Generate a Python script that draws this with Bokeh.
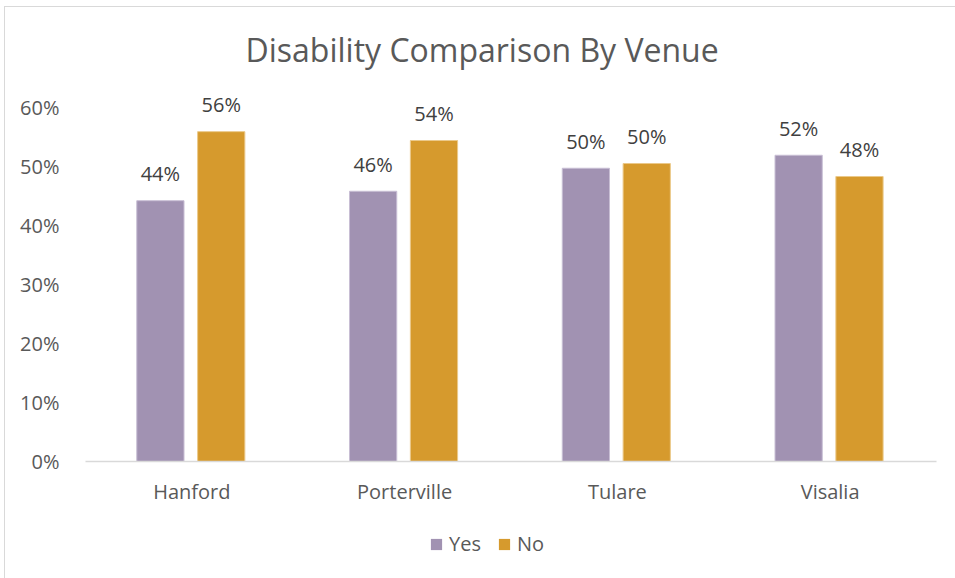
from bokeh.plotting import figure
from bokeh.layouts import column
from bokeh.models import (ColumnDataSource, FactorRange, Range1d, FixedTicker,
                          NumeralTickFormatter, Legend, LegendItem)
from bokeh.transform import dodge
from bokeh.core.properties import value
from bokeh.embed import file_html
from bokeh.resources import INLINE

venues = ["Hanford", "Porterville", "Tulare", "Visalia"]
yes_vals = [0.442, 0.458, 0.497, 0.519]
no_vals = [0.559, 0.544, 0.505, 0.483]
yes_labels = ["44%", "46%", "50%", "52%"]
no_labels = ["56%", "54%", "50%", "48%"]
y_ticks = [0, 0.1, 0.2, 0.3, 0.4, 0.5, 0.6]
series = ["Yes", "No"]

FONT = "Open Sans"
TXT = "#595959"
PURPLE = "#A192B2"
GOLD = "#D69A2D"
FS = "20px"

src = ColumnDataSource(dict(venue=venues, yes=yes_vals, no=no_vals,
                            yes_lab=yes_labels, no_lab=no_labels))

p = figure(width=951, height=514, output_backend="svg", toolbar_location=None,
           x_range=FactorRange(*venues), y_range=Range1d(0, 0.644),
           min_border_left=80, min_border_right=20, min_border_top=74,
           min_border_bottom=60, title="Disability Comparison By Venue")
p.outline_line_color = None
p.background_fill_color = "white"
p.border_fill_color = "white"
p.grid.visible = False

p.title.align = "left"
p.title.offset = 160
p.title.text_font = FONT
p.title.text_font_style = "normal"
p.title.text_font_size = "32px"
p.title.text_color = TXT
p.title.standoff = 22

bw = 0.222
r_yes = p.vbar(x=dodge("venue", -0.148, range=p.x_range), top="yes", width=bw,
               source=src, fill_color=PURPLE, line_color="#C8BED4", line_width=1)
r_no = p.vbar(x=dodge("venue", 0.138, range=p.x_range), top="no", width=bw,
              source=src, fill_color=GOLD, line_color="#EBC98A", line_width=1)

p.text(x=dodge("venue", -0.148, range=p.x_range), y="yes", text="yes_lab",
       source=src, text_align="center", text_baseline="alphabetic", y_offset=-27,
       text_font=value(FONT), text_font_size=FS, text_color="#404040")
p.text(x=dodge("venue", 0.138, range=p.x_range), y="no", text="no_lab",
       source=src, text_align="center", text_baseline="alphabetic", y_offset=-27,
       text_font=value(FONT), text_font_size=FS, text_color="#404040")

ya = p.yaxis[0]
ya.ticker = FixedTicker(ticks=y_ticks)
ya.formatter = NumeralTickFormatter(format="0%")
ya.axis_line_color = None
ya.major_tick_line_color = None
ya.minor_tick_line_color = None
ya.major_label_text_font = FONT
ya.major_label_text_font_size = FS
ya.major_label_text_color = TXT
ya.major_label_standoff = 20

xa = p.xaxis[0]
xa.axis_line_color = "#D9D9D9"
xa.axis_line_width = 1.5
xa.major_tick_line_color = None
xa.minor_tick_line_color = None
xa.major_label_text_font = FONT
xa.major_label_text_font_size = FS
xa.major_label_text_color = TXT
xa.major_label_standoff = 10

# legend strip below the chart (swatch renderers sit far off-canvas)
p2 = figure(width=951, height=58, output_backend="svg", toolbar_location=None,
            x_axis_type=None, y_axis_type=None, x_range=Range1d(0, 1),
            y_range=Range1d(0, 1), min_border_left=80, min_border_right=20,
            min_border_top=0, min_border_bottom=0)
p2.outline_line_color = None
p2.grid.visible = False
p2.background_fill_color = "white"
p2.border_fill_color = "white"
l_yes = p2.vbar(x=[-5], bottom=[-6], top=[-5], width=0.1,
                fill_color=PURPLE, line_color=None)
l_no = p2.vbar(x=[-5], bottom=[-6], top=[-5], width=0.1,
               fill_color=GOLD, line_color=None)
legend = Legend(items=[LegendItem(label=series[0], renderers=[l_yes]),
                       LegendItem(label=series[1], renderers=[l_no])],
                orientation="horizontal", location=(344, 22),
                glyph_width=14, glyph_height=14, spacing=16,
                label_standoff=6, label_text_font=FONT,
                label_text_font_size=FS, label_text_color=TXT,
                border_line_color=None, background_fill_alpha=0,
                padding=4, margin=0)
p2.add_layout(legend, "center")

layout = column(p, p2, spacing=0, margin=(6, 0, 0, 4),
                styles={"border-left": "1.5px solid #d9d9d9",
                        "border-top": "1.5px solid #d9d9d9"})

open("out.html", "w").write(file_html(layout, INLINE))
